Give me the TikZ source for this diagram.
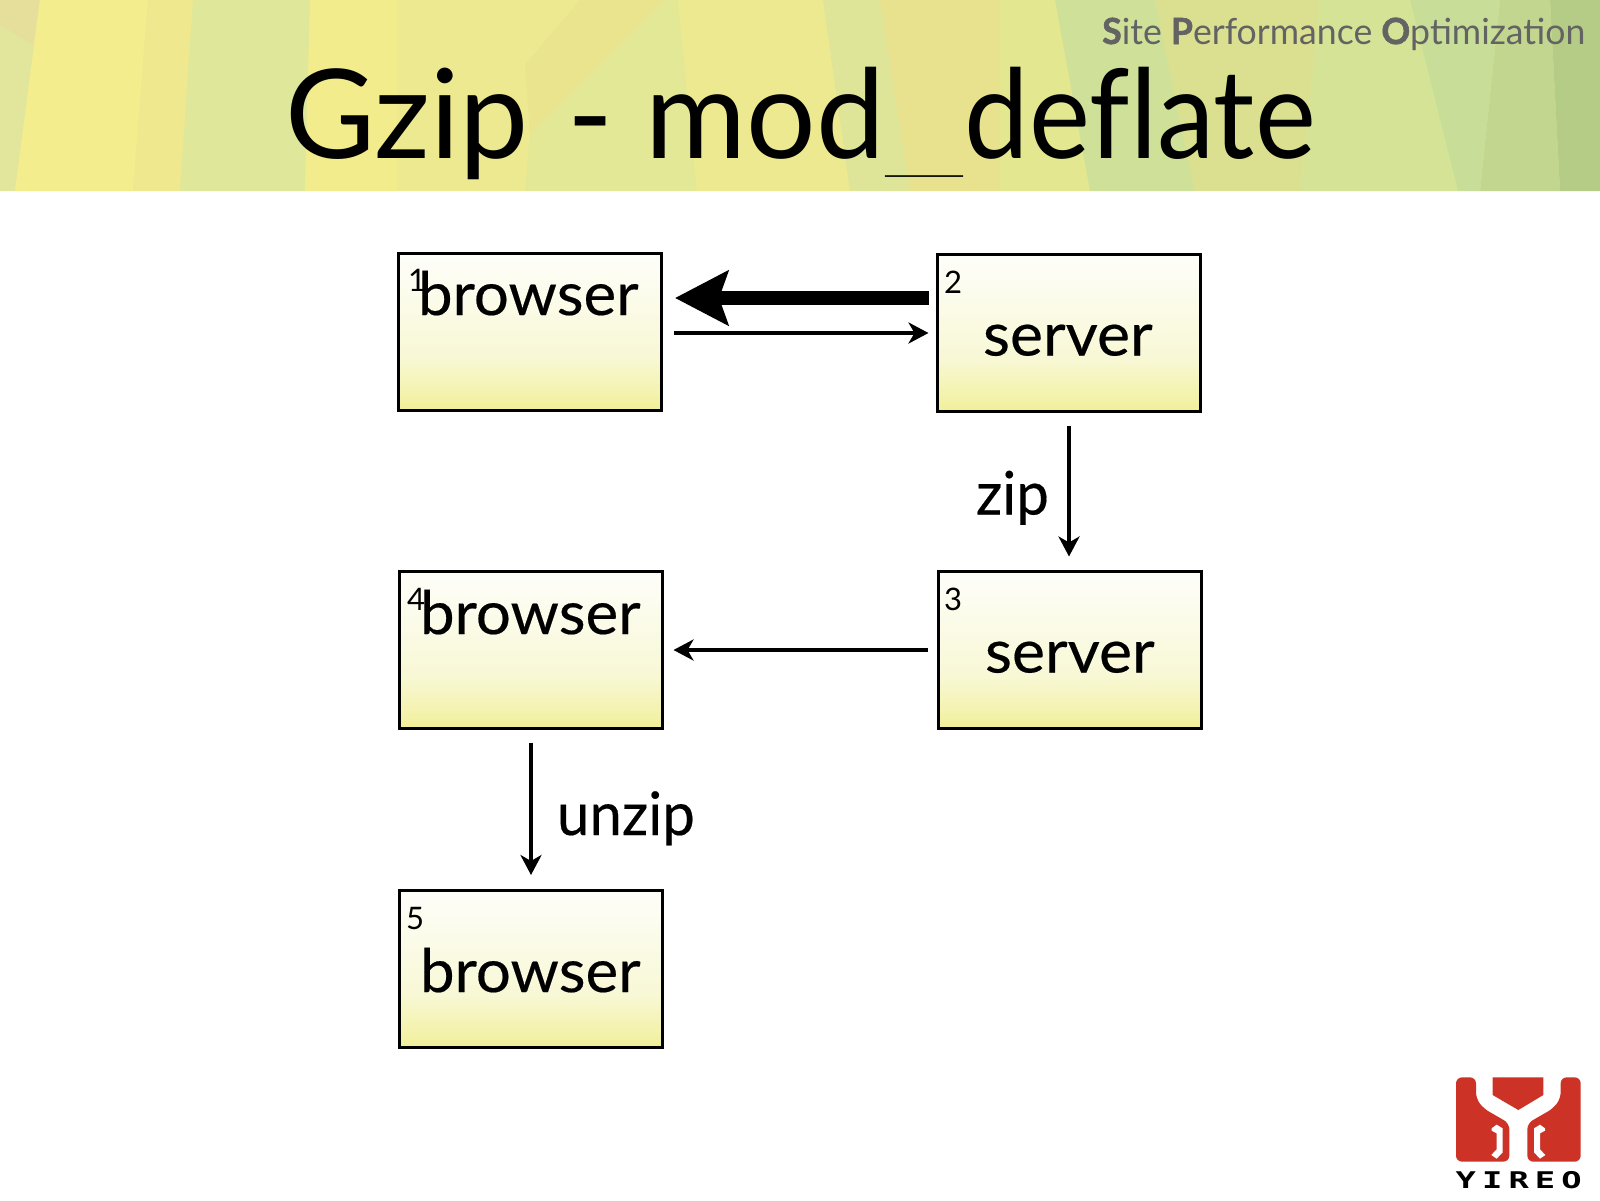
\documentclass[tikz,border=0pt]{standalone}
\usepackage{fontspec}
\usepackage{graphicx}
\setmainfont{Lato}
\newfontfamily\logofont[LetterSpace=18]{DejaVu Sans Mono Bold}
\usetikzlibrary{arrows.meta,calc}
\definecolor{boxA}{HTML}{FEFEFA}
\definecolor{boxB}{HTML}{F8F8D6}
\definecolor{boxC}{HTML}{F1EF95}
\definecolor{logored}{HTML}{CC3326}
\definecolor{subgrey}{HTML}{636363}
\pgfdeclareverticalshading{boxfill}{100bp}{
  color(0bp)=(boxC); color(25bp)=(boxC); color(28bp)=(boxC!75!boxB); color(42bp)=(boxB); color(75bp)=(boxA); color(100bp)=(boxA)}
\tikzset{
  x=1pt,y=-1pt,
  stepbox/.style={draw=black,line width=3pt,shading=boxfill,minimum width=263pt,minimum height=157pt,inner sep=0pt,outer sep=0pt},
  lab/.style={anchor=base west,inner sep=0pt,outer sep=0pt,font=\fontsize{60}{60}\selectfont\addfontfeature{FakeBold=0.3}},
  num/.style={anchor=base,inner sep=0pt,outer sep=0pt,font=\fontsize{31}{31}\selectfont},
  thinarrow/.style={draw=black,line width=4pt,-{Stealth[length=20pt,width=21pt,inset=6pt]}},
  fatarrow/.style={draw=black,line width=14pt,-{Stealth[length=53pt,width=54pt,inset=9pt]}},
}
\newcommand{\bandpoly}[2]{\fill[fill=#1] #2 -- cycle;}
\newcommand{\ini}[1]{\textbf{\addfontfeature{FakeBold=1.6}#1}}
\begin{document}
\begin{tikzpicture}
\useasboundingbox (0,0) rectangle (1600,1200);
\fill[white] (0,0) rectangle (1600,1200);
% banner
\definecolor{p1}{HTML}{E6DF9C}
\definecolor{g1}{HTML}{E2E69C}
\definecolor{y1}{HTML}{F4ED8E}
\definecolor{y2}{HTML}{EFE88F}
\definecolor{g2}{HTML}{DFE79B}
\definecolor{y3}{HTML}{F2EC8D}
\definecolor{y4}{HTML}{EDE990}
\definecolor{p2}{HTML}{EAE48F}
\definecolor{g3}{HTML}{E3E896}
\definecolor{g4}{HTML}{DEE598}
\definecolor{p3}{HTML}{E8E28E}
\definecolor{g5}{HTML}{E3E890}
\definecolor{g6}{HTML}{CFE098}
\definecolor{p4}{HTML}{DBE090}
\definecolor{g7}{HTML}{D4E396}
\definecolor{g8}{HTML}{C8DE98}
\definecolor{g9}{HTML}{C2D690}
\definecolor{g10}{HTML}{B5CC86}
\fill[y4] (0,0) rectangle (1600,191);
\bandpoly{g1}{(0,0) -- (40,0) -- (15,191) -- (0,191)}
\bandpoly{p1}{(0,0) -- (40,0) -- (33,45) -- (0,25)}
\bandpoly{y1}{(40,0) -- (148,0) -- (133,191) -- (15,191)}
\bandpoly{y2}{(148,0) -- (193,0) -- (180,191) -- (133,191)}
\bandpoly{g2}{(193,0) -- (310,0) -- (305,191) -- (180,191)}
\bandpoly{y3}{(310,0) -- (397,0) -- (397,191) -- (305,191)}
\bandpoly{p2}{(525,65) -- (580,0) -- (665,0) -- (530,135)}
\bandpoly{g3}{(665,0) -- (678,0) -- (697,191) -- (525,191) -- (530,135)}
\bandpoly{y4}{(678,0) -- (823,0) -- (850,191) -- (697,191)}
\bandpoly{g4}{(823,0) -- (880,0) -- (910,191) -- (850,191)}
\bandpoly{p3}{(880,0) -- (1000,0) -- (1000,191) -- (910,191)}
\bandpoly{g5}{(1000,0) -- (1055,0) -- (1090,191) -- (1000,191)}
\bandpoly{g6}{(1055,0) -- (1155,0) -- (1195,191) -- (1090,191)}
\bandpoly{p4}{(1155,0) -- (1320,0) -- (1300,191) -- (1195,191)}
\bandpoly{g7}{(1320,0) -- (1410,0) -- (1458,191) -- (1300,191)}
\bandpoly{g8}{(1410,0) -- (1500,0) -- (1480,191) -- (1458,191)}
\bandpoly{g9}{(1500,0) -- (1550,0) -- (1560,191) -- (1480,191)}
\bandpoly{g10}{(1550,0) -- (1600,0) -- (1600,191) -- (1560,191)}
% heading
\node[anchor=base west,inner sep=0pt,text=subgrey,xscale=.99,font=\fontsize{36}{36}\selectfont] (subtitle) at (1102,44) {\ini{S}ite \ini{P}erformance \ini{O}ptimization};
\node[anchor=base west,inner sep=0pt,font=\fontsize{124}{124}\selectfont] (title) at (285,158) {\scalebox{.995}[1]{Gzip}\kern7pt{} - \scalebox{.99}[1]{mod}\kern-6pt\raisebox{-15.5pt}{\scalebox{1.6}[.22]{\_}}\kern-5pt\scalebox{.93}[1]{def\kern0pt late}};
% boxes
\node[stepbox] (b1) at (529.5,331.5) {};
\node[stepbox] (s2) at (1069,333) {};
\node[stepbox] (s3) at (1070,650) {};
\node[stepbox] (b4) at (531,650) {};
\node[stepbox] (b5) at (531,968.5) {};
% box labels
\node[lab,xscale=1.03] (t1) at (418,315) {browser};
\node[lab,xscale=1.04] (t2) at (983,355.5) {server};
\node[lab,xscale=1.04] (t3) at (985,672.5) {server};
\node[lab,xscale=1.03] (t4) at (420,634) {browser};
\node[lab,xscale=1.03] (t5) at (420,992) {browser};
\node[lab,xscale=.97] (zip) at (976,514.5) {zip};
\node[lab,xscale=.97] (unzip) at (557,835) {unzip};
\node[num] (n1) at (417,291) {1};
\node[num] (n2) at (953,293) {2};
\node[num] (n3) at (953,610) {3};
\node[num] (n4) at (416,610) {4};
\node[num] (n5) at (415,929) {5};
% connectors
\draw[fatarrow,shorten <=9pt,shorten >=14pt] ([yshift=35pt]s2.west) -- ([yshift=33.5pt]b1.east);
\draw[thinarrow,shorten <=13pt,shorten >=9pt] (b1.east |- s2.west) -- (s2.west);
\draw[thinarrow,shorten <=14pt,shorten >=15pt] (s2.south) -- (s2.south |- s3.north);
\draw[thinarrow,shorten <=11pt,shorten >=11pt] (s3.west) -- (b4.east);
\draw[thinarrow,shorten <=14pt,shorten >=15pt] (b4.south) -- (b5.north);
% logo
\begin{scope}[shift={(1440,1060)},x=0.3333pt,y=-0.3333pt]
\fill[logored,rounded corners=6pt] (48,52) -- (108,52) -- (108,115) -- (130,145) -- (208,190) -- (208,305) -- (48,305) -- cycle;
\fill[logored,rounded corners=6pt] (422,52) -- (362,52) -- (362,115) -- (340,145) -- (262,190) -- (262,305) -- (422,305) -- cycle;
\fill[logored] (158,52) -- (310,52) -- (310,105) -- (235,150) -- (158,105) -- cycle;
\fill[white] (155,205) -- (170,194) -- (188,205) -- (188,277) -- (170,296) -- (154,285) -- (170,268) -- (170,220) -- (155,212) -- cycle;
\fill[white] (315,205) -- (300,194) -- (282,205) -- (282,277) -- (300,296) -- (316,285) -- (300,268) -- (300,220) -- (315,212) -- cycle;
\node[anchor=base west,inner sep=0pt,xscale=1.47,font=\logofont\fontsize{23}{23}\selectfont] (logotext) at (46,385) {YIREO};
\end{scope}
\end{tikzpicture}
\end{document}
